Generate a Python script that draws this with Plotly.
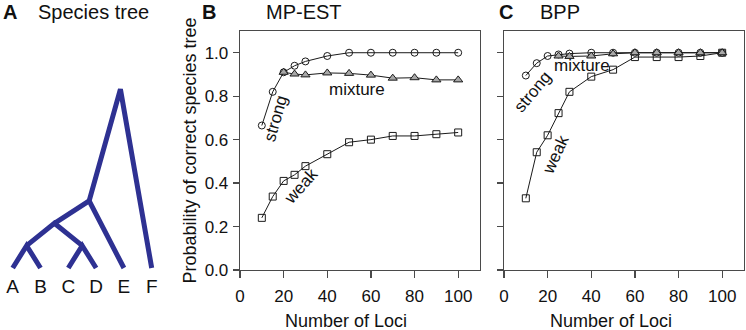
import plotly.graph_objects as go

# ---------------- data ----------------
loci = [10, 15, 20, 25, 30, 40, 50, 60, 70, 80, 90, 100]

mpest_strong = [0.665, 0.82, 0.91, 0.94, 0.96, 0.985, 1.0, 1.0, 1.0, 1.0, 1.0, 1.0]
mpest_mixture_x = [20, 25, 30, 40, 50, 60, 70, 80, 90, 100]
mpest_mixture = [0.91, 0.902, 0.898, 0.907, 0.905, 0.897, 0.883, 0.885, 0.875, 0.875]
mpest_weak = [0.24, 0.338, 0.41, 0.438, 0.478, 0.533, 0.588, 0.6, 0.617, 0.617, 0.625, 0.633]

bpp_strong = [0.895, 0.952, 0.985, 0.992, 0.996, 1.0, 1.0, 1.0, 1.0, 1.0, 1.0, 1.0]
bpp_mixture_x = [25, 30, 40, 50, 60, 70, 80, 90, 100]
bpp_mixture = [0.985, 0.983, 0.985, 0.995, 1.0, 1.0, 1.0, 1.0, 1.0]
bpp_weak = [0.33, 0.542, 0.62, 0.722, 0.82, 0.89, 0.922, 0.98, 0.98, 0.98, 0.985, 1.0]

x_ticks = [0, 20, 40, 60, 80, 100]
y_ticks = [0.0, 0.2, 0.4, 0.6, 0.8, 1.0]

# species tree
leaves = ["A", "B", "C", "D", "E", "F"]
node_names = ["AB", "CD", "ABCD", "ABCDE", "root"]
node_left = ["A", "C", "AB", "ABCD", "ABCDE"]
node_right = ["B", "D", "CD", "E", "F"]
node_height = [0.5, 0.5, 1.0, 1.5, 4.0]

# ---------------- helpers ----------------
W, H = 746, 330
def px(x):
    return x / W
def py(y):
    return 1 - y / H

FONT = "Liberation Sans, Arial, Helvetica, sans-serif"
AXC = "#4a4a4a"
TREE_C = "rgb(46,49,146)"

fig = go.Figure()

def add_series(xs, ys, symbol, xa, ya, size=7, fill=None):
    fig.add_trace(go.Scatter(
        x=xs, y=ys, mode="lines+markers", xaxis=xa, yaxis=ya,
        line=dict(color="#1a1a1a", width=1),
        marker=dict(symbol=symbol, size=size,
                    color=fill if fill else "#1a1a1a",
                    line=dict(color="#1a1a1a", width=1)),
        showlegend=False, hoverinfo="skip"))

# Panel B
add_series(loci, mpest_weak, "square-open", "x", "y")
add_series(loci, mpest_strong, "circle-open", "x", "y")
add_series(mpest_mixture_x, mpest_mixture, "triangle-up", "x", "y", size=8, fill="#a8a8a8")
# Panel C
add_series(loci, bpp_weak, "square-open", "x2", "y2")
add_series(loci, bpp_strong, "circle-open", "x2", "y2")
add_series(bpp_mixture_x, bpp_mixture, "triangle-up", "x2", "y2", size=8, fill="#a8a8a8")

# Panel A tree
pos_x = {name: float(i) for i, name in enumerate(leaves)}
pos_y = {name: 0.0 for name in leaves}
for n, l, r, h in zip(node_names, node_left, node_right, node_height):
    pos_x[n] = (pos_x[l] + pos_x[r]) / 2
    pos_y[n] = h
tx, ty = [], []
for n, l, r in zip(node_names, node_left, node_right):
    tx += [pos_x[l], pos_x[n], pos_x[r], None]
    ty += [pos_y[l], pos_y[n], pos_y[r], None]
fig.add_trace(go.Scatter(x=tx, y=ty, mode="lines", xaxis="x3", yaxis="y3",
                         line=dict(color=TREE_C, width=5),
                         showlegend=False, hoverinfo="skip"))
fig.add_trace(go.Scatter(x=[pos_x[n] for n in leaves], y=[-0.456] * len(leaves),
                         mode="text", text=leaves, xaxis="x3", yaxis="y3",
                         textfont=dict(family=FONT, size=19, color="#111"),
                         showlegend=False, hoverinfo="skip"))

def xaxis_cfg(dom):
    return dict(domain=dom, range=[0, 110], tickvals=x_ticks, ticks="outside",
                ticklen=7, tickwidth=1.3, tickcolor=AXC, showline=True,
                linecolor=AXC, linewidth=1.3, mirror=True, showgrid=False,
                zeroline=False, tickfont=dict(family=FONT, size=17, color="#111"),
                ticklabelstandoff=3, automargin=False, fixedrange=True)

def yaxis_cfg(dom, labels, anchor):
    return dict(domain=dom, range=[0, 1.1], tickvals=y_ticks, tickformat=".1f",
                ticks="outside", ticklen=6, tickwidth=1.3, tickcolor=AXC,
                showline=True, linecolor=AXC, linewidth=1.3, mirror=True,
                showgrid=False, zeroline=False, showticklabels=labels,
                anchor=anchor, automargin=False, fixedrange=True,
                tickfont=dict(family=FONT, size=17, color="#111"),
                ticklabelstandoff=1)

# tree axis: leaf i at x = 12.7 + 27.8*i px, height 1 unit = 44.7 px above y=268 px
tree_x0, tree_dx = 12.7, 27.8
tree_y0, tree_dy = 268, 44.7
ydom = [py(270), py(31)]
fig.update_layout(
    width=W, height=H, margin=dict(l=0, r=0, t=0, b=0, pad=0, autoexpand=False),
    paper_bgcolor="white", plot_bgcolor="white", hovermode=False,
    font=dict(family=FONT, color="#111"),
    xaxis=xaxis_cfg([px(240), px(480)]) | dict(anchor="y"),
    yaxis=yaxis_cfg(ydom, True, "x"),
    xaxis2=xaxis_cfg([px(504), px(744)]) | dict(anchor="y2"),
    yaxis2=yaxis_cfg(ydom, False, "x2"),
    xaxis3=dict(domain=[0, px(170)],
                range=[-tree_x0 / tree_dx, (170 - tree_x0) / tree_dx],
                visible=False, anchor="y3", automargin=False, fixedrange=True),
    yaxis3=dict(domain=[0, 1],
                range=[-(H - tree_y0) / tree_dy, tree_y0 / tree_dy],
                visible=False, anchor="x3", automargin=False, fixedrange=True),
)

def ann(text, x, y, size, xanchor="center", angle=0, bold=False):
    fig.add_annotation(text=f"<b>{text}</b>" if bold else text,
                       x=px(x), y=py(y), xref="paper", yref="paper",
                       xanchor=xanchor, yanchor="middle", showarrow=False,
                       textangle=angle,
                       font=dict(family=FONT, size=size, color="#111"))

# Panel titles
ann("A", 10, 11.5, 20, bold=True)
ann("Species tree", 36, 11.5, 20, xanchor="left")
ann("B", 208.5, 11.5, 20, bold=True)
ann("MP-EST", 264, 11.5, 20, xanchor="left")
ann("C", 506, 11.5, 20, bold=True)
ann("BPP", 537.5, 11.5, 20, xanchor="left")

# Axis titles
ann("Number of Loci", 345.5, 321, 18)
ann("Number of Loci", 611, 321, 18)
ann("Probability of correct species tree", 189, 150.5, 18, angle=-90)

# Curve labels
ann("strong", 275, 119, 17, angle=-74)
ann("mixture", 357, 89, 17)
ann("weak", 300.5, 186, 17, angle=-48)
ann("strong", 532, 92, 17, angle=-50)
ann("mixture", 581.5, 66, 17)
ann("weak", 555, 155, 17, angle=-65)

# remove the browser's default 8px page margin so the figure sits at (0, 0)
fig.write_html("out.html",
               config={"displayModeBar": False, "staticPlot": True},
               post_script="document.body.style.margin='0';"
                           "document.body.style.overflow='hidden';")
